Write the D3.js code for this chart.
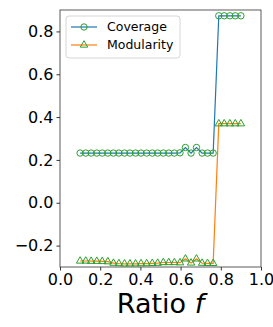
<!DOCTYPE html>
<html>
<head>
<meta charset="utf-8">
<script src="https://cdn.jsdelivr.net/npm/d3@7"></script>
<style>
  body { margin: 0; background: #fff; }
  svg { font-family: "DejaVu Sans", sans-serif; }
</style>
</head>
<body>
<svg id="chart"></svg>
<script>
// 30 sampled ratios between 0.1 and 0.9
const ratios = [
  0.100, 0.128, 0.155, 0.183, 0.210, 0.238, 0.266, 0.293, 0.321, 0.348,
  0.376, 0.403, 0.431, 0.459, 0.486, 0.514, 0.541, 0.569, 0.597, 0.624,
  0.652, 0.679, 0.707, 0.734, 0.762, 0.790, 0.817, 0.845, 0.872, 0.900
];
const coverage = [
  0.232, 0.232, 0.232, 0.232, 0.232, 0.232, 0.232, 0.232, 0.232, 0.232,
  0.232, 0.232, 0.232, 0.232, 0.232, 0.232, 0.232, 0.232, 0.233, 0.258,
  0.232, 0.258, 0.232, 0.232, 0.232, 0.873, 0.873, 0.873, 0.873, 0.873
];
const modularity = [
  -0.272, -0.272, -0.273, -0.273, -0.274, -0.275, -0.282, -0.284, -0.285, -0.285,
  -0.285, -0.284, -0.284, -0.283, -0.282, -0.279, -0.279, -0.279, -0.280, -0.262,
  -0.281, -0.262, -0.282, -0.283, -0.283, 0.369, 0.369, 0.369, 0.369, 0.369
];
const xTicks = [0, 0.2, 0.4, 0.6, 0.8, 1.0];
const yTicks = [-0.2, 0, 0.2, 0.4, 0.6, 0.8];
const seriesNames = ["Coverage", "Modularity"];

const margin = { top: 10, right: 12, bottom: 60, left: 60 };
const width = 273 - margin.left - margin.right;
const height = 327 - margin.top - margin.bottom;
const colours = ["#1f77b4", "#ff7f0e"];
const markerColour = "#2ca02c";

const x = d3.scaleLinear().domain([0, 1]).range([0, width]);
const y = d3.scaleLinear().domain([-0.3, 0.9]).range([height, 0]);

const svg = d3.select("#chart").attr("width", 273).attr("height", 327);
const chart = svg.append("g")
  .attr("transform", `translate(${margin.left}, ${margin.top})`);

const fmt = d => d3.format(".1f")(d).replace("-", "\u2212");

// axes
const xAxis = chart.append("g")
  .attr("transform", `translate(0, ${height})`)
  .call(d3.axisBottom(x).tickValues(xTicks).tickFormat(fmt).tickSize(3.5).tickPadding(3));
const yAxis = chart.append("g")
  .call(d3.axisLeft(y).tickValues(yTicks).tickFormat(fmt).tickSize(3.5).tickPadding(3));
[xAxis, yAxis].forEach(a => {
  a.select(".domain").remove();
  a.selectAll(".tick line").attr("stroke", "#000").attr("stroke-width", 0.8);
  a.selectAll(".tick text").attr("fill", "#000").style("font-size", "16px")
    .style("font-family", "DejaVu Sans, sans-serif");
});

// frame
chart.append("rect")
  .attr("width", width).attr("height", height)
  .attr("fill", "none").attr("stroke", "#333").attr("stroke-width", 0.8);

const plot = chart.append("g");
const series = [coverage, modularity];
const line = d3.line().x((d, i) => x(ratios[i])).y(d => y(d));

series.forEach((vals, s) => {
  plot.append("path")
    .datum(vals)
    .attr("d", line)
    .attr("fill", "none")
    .attr("stroke", colours[s])
    .attr("stroke-width", 1.2);
});

const tri = d3.symbol().type(d3.symbolTriangle).size(24);

plot.selectAll(".cov")
  .data(coverage)
  .enter()
  .append("circle")
  .attr("class", "cov")
  .attr("cx", (d, i) => x(ratios[i]))
  .attr("cy", d => y(d))
  .attr("r", 3.2)
  .attr("fill", "none")
  .attr("stroke", markerColour)
  .attr("stroke-width", 1);

plot.selectAll(".mod")
  .data(modularity)
  .enter()
  .append("path")
  .attr("class", "mod")
  .attr("d", tri)
  .attr("transform", (d, i) => `translate(${x(ratios[i])}, ${y(d)})`)
  .attr("fill", "none")
  .attr("stroke", markerColour)
  .attr("stroke-width", 1);

// legend
const legend = chart.append("g").attr("transform", "translate(6, 6)");
legend.append("rect")
  .attr("width", 114).attr("height", 42).attr("rx", 3)
  .attr("fill", "#fff").attr("fill-opacity", 0.8)
  .attr("stroke", "#ccc").attr("stroke-width", 0.8);

seriesNames.forEach((name, i) => {
  const g = legend.append("g").attr("transform", `translate(0, ${11 + i * 18})`);
  g.append("line")
    .attr("x1", 5).attr("x2", 31)
    .attr("stroke", colours[i]).attr("stroke-width", 1.2);
  if (i === 0) {
    g.append("circle").attr("cx", 18).attr("r", 3.2)
      .attr("fill", "none").attr("stroke", markerColour);
  } else {
    g.append("path").attr("d", tri).attr("transform", "translate(18, 0)")
      .attr("fill", "none").attr("stroke", markerColour);
  }
  g.append("text")
    .attr("x", 41).attr("y", 0)
    .attr("dy", "0.35em")
    .style("font-size", "12.5px")
    .text(name);
});

// axis title
const title = chart.append("text")
  .attr("x", width / 2)
  .attr("y", height + 46)
  .style("text-anchor", "middle")
  .style("font-size", "27px");
title.append("tspan").text("Ratio ");
title.append("tspan").style("font-style", "italic").text("f");
</script>
</body>
</html>
